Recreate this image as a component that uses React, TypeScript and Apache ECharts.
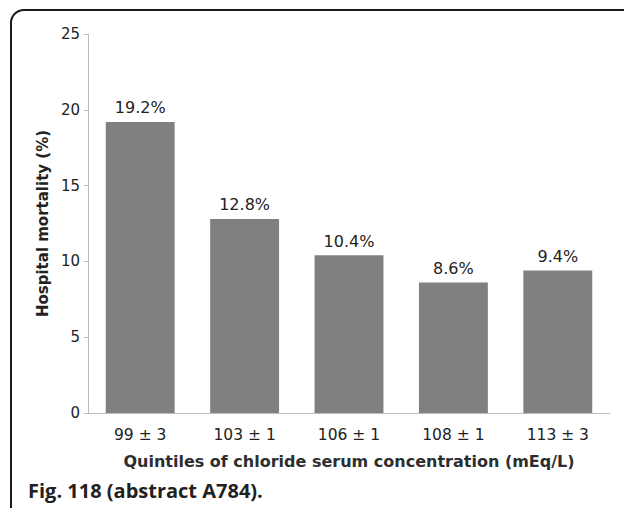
import React, { useEffect, useRef } from "react";
import * as echarts from "echarts";

const categories = ["99 ± 3", "103 ± 1", "106 ± 1", "108 ± 1", "113 ± 3"];
const mortality = [19.2, 12.8, 10.4, 8.6, 9.4];
const yTicks = [0, 5, 10, 15, 20, 25];

export default function App() {
  const ref = useRef<HTMLDivElement>(null);
  useEffect(() => {
    if (!ref.current) return;
    const chart = echarts.init(ref.current, null, { renderer: "svg" });
    const font = "'DejaVu Sans', Verdana, sans-serif";
    const txt = "#222222";
    chart.setOption({
      animation: false,
      backgroundColor: "#ffffff",
      grid: { left: 88, right: 14, top: 34, bottom: 95, containLabel: false },
      xAxis: {
        type: "category",
        data: categories,
        axisLine: { lineStyle: { color: "#bdbdbd", width: 1 } },
        axisTick: { show: false },
        axisLabel: { color: txt, fontFamily: font, fontSize: 15.5, margin: 14 },
        name: "Quintiles of chloride serum concentration (mEq/L)",
        nameLocation: "middle",
        nameGap: 40,
        nameTextStyle: { color: "#2e2e2e", fontFamily: font, fontSize: 16, fontWeight: "bold" },
      },
      yAxis: {
        type: "value",
        min: yTicks[0],
        max: yTicks[yTicks.length - 1],
        interval: 5,
        splitLine: { show: false },
        axisLine: { show: true, lineStyle: { color: "#bdbdbd", width: 1 } },
        axisTick: { show: true, length: 4, lineStyle: { color: "#bdbdbd" } },
        axisLabel: { color: txt, fontFamily: font, fontSize: 15, margin: 8 },
        name: "Hospital mortality (%)",
        nameLocation: "middle",
        nameGap: 36,
        nameRotate: 90,
        nameTextStyle: { color: txt, fontFamily: font, fontSize: 15, fontWeight: "bold" },
      },
      series: [
        {
          type: "bar",
          data: mortality,
          barWidth: "66%",
          itemStyle: { color: "#808080" },
          label: {
            show: true,
            position: "top",
            distance: 6,
            formatter: (p: any) => p.value.toFixed(1) + "%",
            color: txt,
            fontFamily: font,
            fontSize: 16,
          },
        },
      ],
      graphic: [
        {
          type: "rect",
          shape: { x: 11, y: 10, width: 800, height: 700, r: [13, 0, 0, 0] },
          style: { fill: "none", stroke: "#1a1a1a", lineWidth: 2 },
          silent: true,
        },
        {
          type: "text",
          left: 28,
          top: 480,
          style: {
            text: "Fig. 118 (abstract A784).",
            fill: "#231f20",
            font: "bold 20px 'Open Sans', sans-serif",
          },
        },
      ],
    });
    return () => chart.dispose();
  }, []);
  return (
    <div
      ref={ref}
      style={{ position: "fixed", left: 0, top: 0, width: 624, height: 508 }}
    />
  );
}
